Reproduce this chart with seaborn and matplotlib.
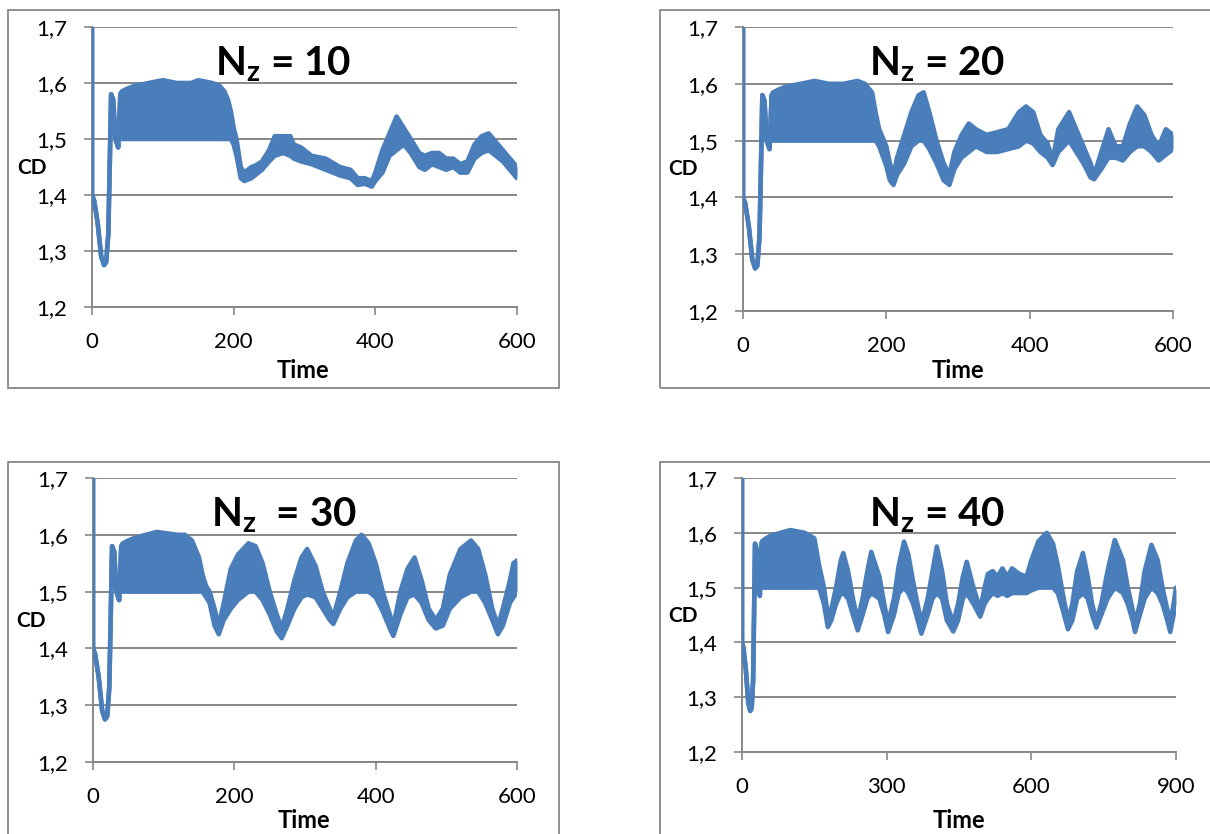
import matplotlib
matplotlib.use("Agg")
import matplotlib.pyplot as plt
import pandas as pd
import seaborn as sns
from matplotlib.patches import Rectangle

# ---------------- data ----------------
# start-up transient, common to all four runs
t_start = [0, 0, 3, 8, 13, 17, 20, 23, 25, 27, 30, 33, 37, 40]
cd_start = [1.70, 1.40, 1.39, 1.35, 1.29, 1.275, 1.28, 1.33, 1.45, 1.58, 1.57, 1.50, 1.485, 1.58]

# Nz = 10 : time, upper / lower envelope of the oscillating CD signal
t10 = [42, 50, 60, 80, 100, 120, 140, 150, 170, 180, 187, 192, 196, 200, 204, 210, 215, 225, 230, 240,
       250, 258, 270, 280, 285, 295, 310, 330, 350, 365, 375, 385, 395, 400, 410, 420, 430, 440, 450, 462,
       470, 480, 490, 500, 510, 520, 530, 540, 550, 560, 570, 580, 590, 600]
up10 = [1.585, 1.59, 1.595, 1.60, 1.605, 1.60, 1.60, 1.605, 1.60, 1.595, 1.585, 1.57, 1.55, 1.52, 1.50, 1.45, 1.44, 1.45, 1.452, 1.46,
        1.48, 1.505, 1.505, 1.505, 1.49, 1.485, 1.47, 1.465, 1.45, 1.445, 1.43, 1.43, 1.425, 1.44, 1.48, 1.51, 1.54, 1.52, 1.50, 1.475,
        1.47, 1.475, 1.475, 1.465, 1.465, 1.455, 1.46, 1.49, 1.505, 1.51, 1.495, 1.48, 1.465, 1.45]
lo10 = [1.50, 1.50, 1.50, 1.50, 1.50, 1.50, 1.50, 1.50, 1.50, 1.50, 1.50, 1.50, 1.50, 1.49, 1.47, 1.43, 1.425, 1.43, 1.435, 1.445,
        1.46, 1.47, 1.475, 1.47, 1.465, 1.46, 1.455, 1.445, 1.435, 1.43, 1.418, 1.42, 1.415, 1.425, 1.44, 1.47, 1.48, 1.49, 1.475, 1.45,
        1.445, 1.455, 1.45, 1.445, 1.45, 1.44, 1.44, 1.465, 1.475, 1.48, 1.47, 1.46, 1.445, 1.43]

# Nz = 20
t20 = [42, 50, 60, 80, 100, 120, 140, 160, 170, 180, 185, 190, 200, 205, 210, 215, 225, 235, 245, 252,
       260, 270, 280, 288, 295, 305, 315, 325, 340, 355, 370, 385, 395, 405, 415, 425, 432, 440, 455, 465,
       475, 485, 490, 500, 510, 520, 530, 540, 550, 560, 570, 580, 590, 600]
up20 = [1.585, 1.59, 1.595, 1.60, 1.605, 1.60, 1.60, 1.605, 1.60, 1.585, 1.55, 1.52, 1.49, 1.46, 1.44, 1.47, 1.51, 1.55, 1.58, 1.585,
        1.55, 1.50, 1.46, 1.44, 1.48, 1.51, 1.53, 1.52, 1.51, 1.515, 1.52, 1.55, 1.56, 1.55, 1.51, 1.495, 1.465, 1.52, 1.55, 1.52,
        1.49, 1.46, 1.44, 1.48, 1.52, 1.49, 1.49, 1.53, 1.56, 1.545, 1.51, 1.49, 1.52, 1.51]
lo20 = [1.50, 1.50, 1.50, 1.50, 1.50, 1.50, 1.50, 1.50, 1.50, 1.50, 1.50, 1.49, 1.455, 1.43, 1.422, 1.44, 1.46, 1.49, 1.50, 1.50,
        1.485, 1.46, 1.43, 1.422, 1.45, 1.47, 1.48, 1.49, 1.48, 1.48, 1.485, 1.49, 1.50, 1.495, 1.48, 1.47, 1.457, 1.48, 1.50, 1.48,
        1.46, 1.435, 1.432, 1.45, 1.47, 1.47, 1.465, 1.48, 1.49, 1.49, 1.48, 1.465, 1.475, 1.485]

# Nz = 30
t30 = [42, 50, 60, 90, 120, 130, 140, 150, 155, 160, 165, 172, 178, 185, 195, 205, 220, 230, 240, 250,
       260, 267, 275, 285, 295, 303, 315, 325, 335, 340, 350, 360, 372, 380, 390, 400, 410, 420, 425, 435,
       445, 455, 465, 475, 485, 495, 505, 520, 535, 545, 555, 565, 573, 580, 590, 595, 600]
up30 = [1.585, 1.59, 1.595, 1.605, 1.60, 1.60, 1.59, 1.56, 1.53, 1.51, 1.50, 1.47, 1.44, 1.48, 1.54, 1.565, 1.585, 1.58, 1.55, 1.50,
        1.46, 1.435, 1.47, 1.52, 1.56, 1.575, 1.545, 1.50, 1.47, 1.455, 1.50, 1.55, 1.59, 1.60, 1.585, 1.55, 1.50, 1.46, 1.44, 1.50,
        1.54, 1.56, 1.52, 1.47, 1.45, 1.47, 1.53, 1.575, 1.59, 1.575, 1.53, 1.47, 1.44, 1.47, 1.52, 1.55, 1.555]
lo30 = [1.50, 1.50, 1.50, 1.50, 1.50, 1.50, 1.50, 1.50, 1.50, 1.49, 1.48, 1.44, 1.425, 1.45, 1.47, 1.485, 1.50, 1.50, 1.485, 1.46,
        1.43, 1.418, 1.44, 1.47, 1.49, 1.495, 1.49, 1.47, 1.45, 1.443, 1.47, 1.49, 1.50, 1.50, 1.50, 1.49, 1.465, 1.435, 1.422, 1.46,
        1.49, 1.495, 1.48, 1.45, 1.435, 1.44, 1.47, 1.49, 1.50, 1.50, 1.48, 1.45, 1.425, 1.44, 1.48, 1.49, 1.50]

# Nz = 40 (longer run, up to t = 900)
t40 = [42, 50, 60, 100, 130, 150, 160, 170, 178, 185, 195, 205, 210, 220, 230, 240, 250, 260, 268, 285,
       295, 303, 315, 325, 336, 345, 355, 372, 385, 395, 404, 415, 425, 438, 448, 458, 466, 480, 494, 503,
       510, 520, 530, 540, 550, 560, 575, 590, 600, 615, 632, 645, 655, 665, 676, 685, 695, 707, 717, 726,
       735, 745, 758, 773, 790, 800, 810, 815, 825, 835, 849, 862, 872, 882, 888, 895, 900]
up40 = [1.585, 1.59, 1.595, 1.605, 1.60, 1.59, 1.54, 1.50, 1.45, 1.46, 1.50, 1.55, 1.563, 1.53, 1.48, 1.44, 1.48, 1.53, 1.565, 1.52,
        1.47, 1.435, 1.48, 1.54, 1.584, 1.56, 1.51, 1.435, 1.48, 1.53, 1.575, 1.53, 1.47, 1.435, 1.47, 1.52, 1.547, 1.50, 1.46, 1.50,
        1.525, 1.53, 1.52, 1.535, 1.52, 1.535, 1.525, 1.52, 1.55, 1.585, 1.60, 1.58, 1.54, 1.49, 1.44, 1.47, 1.53, 1.563, 1.52, 1.47,
        1.44, 1.47, 1.53, 1.587, 1.55, 1.50, 1.46, 1.435, 1.47, 1.53, 1.578, 1.55, 1.50, 1.46, 1.435, 1.47, 1.50]
lo40 = [1.50, 1.50, 1.50, 1.50, 1.50, 1.50, 1.50, 1.47, 1.428, 1.44, 1.47, 1.49, 1.49, 1.48, 1.45, 1.422, 1.45, 1.48, 1.49, 1.48,
        1.45, 1.419, 1.45, 1.49, 1.50, 1.49, 1.47, 1.416, 1.45, 1.48, 1.49, 1.48, 1.44, 1.42, 1.44, 1.48, 1.49, 1.47, 1.447, 1.47,
        1.48, 1.49, 1.485, 1.49, 1.485, 1.49, 1.49, 1.49, 1.495, 1.50, 1.50, 1.50, 1.49, 1.46, 1.424, 1.44, 1.48, 1.49, 1.48, 1.45,
        1.427, 1.45, 1.48, 1.50, 1.49, 1.47, 1.44, 1.419, 1.45, 1.48, 1.50, 1.49, 1.47, 1.44, 1.419, 1.45, 1.47]

y_ticks = [1.2, 1.3, 1.4, 1.5, 1.6, 1.7]
y_tick_labels = ["1,2", "1,3", "1,4", "1,5", "1,6", "1,7"]
x_ticks_600 = [0, 200, 400, 600]
x_ticks_900 = [0, 300, 600, 900]
nz_labels = ["10", "20", "30", "40"]

# ---------------- style ----------------
sns.set_theme(style="white")
plt.rcParams["font.family"] = ["Lato", "DejaVu Sans"]
plt.rcParams["mathtext.fontset"] = "custom"
plt.rcParams["mathtext.rm"] = "Lato"
plt.rcParams["mathtext.bf"] = "Lato:bold"
plt.rcParams["mathtext.it"] = "Lato:italic"

BLUE = "#4A7EBB"
GRAY = "#878787"
W, H = 1210, 834

fig = plt.figure(figsize=(W / 100, H / 100), dpi=100)
fig.patch.set_facecolor("white")


def fx(px):
    return px / W


def fy(py):
    return 1 - py / H


panels = [
    dict(t=t10, up=up10, lo=lo10, nz=nz_labels[0], xmax=600, xt=x_ticks_600,
         ax=(92, 27, 517, 307), box=(8, 10, 559, 388), cd=(32, 168), time=(303, 370),
         title=(215, 76), sep=" "),
    dict(t=t20, up=up20, lo=lo20, nz=nz_labels[1], xmax=600, xt=x_ticks_600,
         ax=(743, 27, 1173, 311), box=(660, 10, 1216, 388), cd=(683, 169), time=(958, 370),
         title=(869, 76), sep=" "),
    dict(t=t30, up=up30, lo=lo30, nz=nz_labels[2], xmax=600, xt=x_ticks_600,
         ax=(93, 478, 517, 762), box=(8, 462, 559, 840), cd=(31, 621), time=(304, 820),
         title=(211, 527), sep="  "),
    dict(t=t40, up=up40, lo=lo40, nz=nz_labels[3], xmax=900, xt=x_ticks_900,
         ax=(742, 478, 1176, 752), box=(660, 462, 1216, 840), cd=(683, 616), time=(959, 820),
         title=(869, 527), sep=" "),
]

for p in panels:
    # chart-area frame
    bx0, by0, bx1, by1 = p["box"]
    fig.add_artist(Rectangle((fx(bx0), fy(by1)), (bx1 - bx0) / W, (by1 - by0) / H,
                             transform=fig.transFigure, fill=False, ec=GRAY, lw=1.3, zorder=0))

    x0, y0, x1, y1 = p["ax"]
    ax = fig.add_axes([fx(x0), fy(y1), (x1 - x0) / W, (y1 - y0) / H])
    ax.set_facecolor("none")

    df = pd.DataFrame({
        "Time": t_start + p["t"],
        "upper": cd_start + p["up"],
        "lower": cd_start + p["lo"],
    })
    ax.fill_between(df["Time"], df["lower"], df["upper"], color=BLUE, lw=0, zorder=3)
    for col in ["upper", "lower"]:
        sns.lineplot(data=df, x="Time", y=col, ax=ax, color=BLUE, lw=3.3, sort=False,
                     estimator=None, zorder=4, solid_joinstyle="round", solid_capstyle="round")

    ax.set_xlim(0, p["xmax"])
    ax.set_ylim(1.2, 1.7)
    ax.set_xticks(p["xt"])
    ax.set_xticklabels([str(v) for v in p["xt"]])
    ax.set_yticks(y_ticks)
    ax.set_yticklabels(y_tick_labels)
    ax.set_xlabel("")
    ax.set_ylabel("")

    ax.yaxis.grid(True, color=GRAY, lw=1.4)
    ax.xaxis.grid(False)
    ax.set_axisbelow(True)
    for s in ["top", "right"]:
        ax.spines[s].set_visible(False)
    for s in ["left", "bottom"]:
        ax.spines[s].set_color(GRAY)
        ax.spines[s].set_linewidth(1.4)
        ax.spines[s].set_zorder(1)
    ax.tick_params(axis="both", which="major", bottom=True, left=True, length=6, width=1.2,
                   color=GRAY, direction="out", pad=12, labelsize=16, labelcolor="black")

    # axis titles and panel title
    fig.text(fx(p["cd"][0]), fy(p["cd"][1]), "CD", ha="center", va="center",
             fontsize=15, fontweight="bold", color="black")
    fig.text(fx(p["time"][0]), fy(p["time"][1]), "Time", ha="center", va="center",
             fontsize=17, fontweight="bold", color="black")
    fig.text(fx(p["title"][0]), fy(p["title"][1]), r"$\mathbf{N_z}$" + p["sep"] + "= " + p["nz"],
             ha="left", va="baseline", fontsize=29, fontweight="bold", color="black")

fig.savefig("out.png", dpi=100, facecolor="white")
